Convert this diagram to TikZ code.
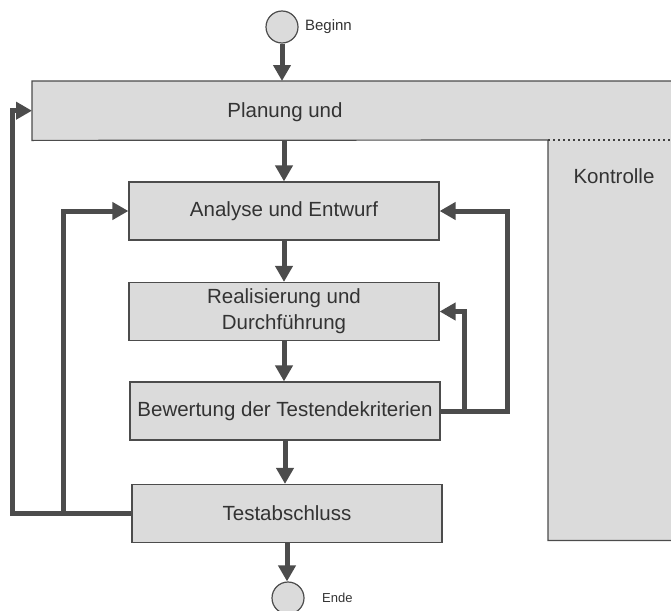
\documentclass[tikz,border=0pt]{standalone}
\usepackage{fontspec}
\setmainfont{Liberation Sans}
\usetikzlibrary{arrows.meta}
\usetikzlibrary{positioning}
\definecolor{boxgray}{gray}{0.86}
\definecolor{linegray}{gray}{0.3}

\begin{document}
\begin{tikzpicture}[x=1pt, y=-1pt,
	phase/.style={rectangle, draw=linegray, line width=1.2pt, fill=boxgray,
	              minimum width=310pt, minimum height=58pt, inner sep=0pt,
	              align=center, text=black!80, font=\fontsize{20.5}{26}\selectfont},
	phasetext/.style={text=black!80, font=\fontsize{20.5}{26}\selectfont},
	plate/.style={rectangle, fill=boxgray, draw=none, inner sep=0pt},
	rim/.style={draw=linegray, line width=1.2pt},
	terminal/.style={circle, draw=linegray, line width=1.2pt, fill=boxgray,
	                 minimum size=32pt, inner sep=0pt},
	flow/.style={draw=linegray, line width=5pt, -{Triangle[length=16pt, width=17pt]}},
	backline/.style={draw=linegray, line width=5pt}]

	\useasboundingbox (0,0) rectangle (671,610);
	\clip (0,0) rectangle (671,610);

	% planung und kontrolle
	\node[plate, anchor=north west, minimum width=660pt, minimum height=59pt] (plan) at (32,81) {};
	\node[plate, anchor=north west, minimum width=140pt, minimum height=400pt] (kontrolle) at (548,140) {};
	\draw[rim] (plan.north east) -- (plan.north west) -- (plan.south west)
	        -- (kontrolle.north west) -- (kontrolle.south west) -- (kontrolle.south east);
	\draw[draw=black!75, line width=1.6pt, dash pattern=on 2pt off 3pt] (kontrolle.north west) -- (kontrolle.north east);
	\node[phasetext] (plantext) at (285,112) {Planung und};
	\node[phasetext, anchor=west] (kontrolltext) at (570,176) {Kontrolle};

	% phasen
	\node[phase] (analyse) at (284,211) {Analyse und Entwurf};
	\node[phase] (real) at (284,311.5) {Realisierung und\\Durchführung};
	\node[phase] (bewertung) at (285,411) {Bewertung der Testendekriterien};
	\node[phase] (abschluss) at (287,513.5) {Testabschluss};

	% beginn und ende
	\node[terminal] (beginn) at (282,27) {};
	\node[right=3pt of beginn, text=black!80, font=\fontsize{15}{18}\selectfont] (beginnlabel) {Beginn};
	\node[terminal] (ende) at (288,598) {};
	\node[right=14pt of ende, text=black!80, font=\fontsize{13}{16}\selectfont] (endelabel) {Ende};

	% hauptfluss
	\draw[flow] (beginn) -- (beginn |- plan.north);
	\draw[flow] (analyse.north |- plan.south) -- (analyse.north);
	\draw[flow] (analyse.south) -- (real.north);
	\draw[flow] (real.south) -- (real.south |- bewertung.north);
	\draw[flow] (bewertung.south) -- (bewertung.south |- abschluss.north);
	\draw[flow] (abschluss.south) -- (abschluss.south |- ende.north);

	% rueckfuehrungen
	\coordinate (outerleft) at (12,0);
	\coordinate (innerleft) at (63,0);
	\coordinate (outerright) at (507,0);
	\coordinate (innerright) at (464,0);
	\draw[flow] (abschluss.west) -- (outerleft |- abschluss.west) -- (outerleft |- plan.west) -- (plan.west);
	\draw[flow] (innerleft |- abschluss.west) -- (innerleft |- analyse.west) -- (analyse.west);
	\draw[flow] (bewertung.east) -- (outerright |- bewertung.east) -- (outerright |- analyse.east) -- (analyse.east);
	\draw[flow] (innerright |- bewertung.east) -- (innerright |- real.east) -- (real.east);
\end{tikzpicture}
\end{document}
